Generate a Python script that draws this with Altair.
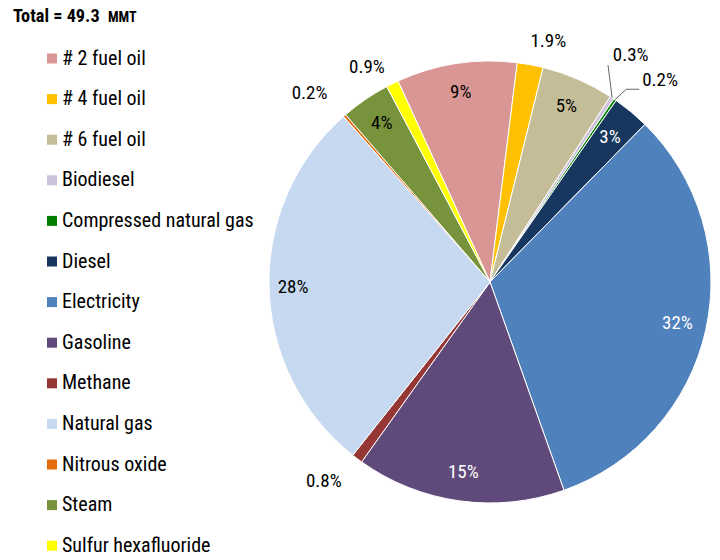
import math
import altair as alt
import pandas as pd

# ---- data ----
categories = ["# 2 fuel oil", "# 4 fuel oil", "# 6 fuel oil", "Biodiesel",
              "Compressed natural gas", "Diesel", "Electricity", "Gasoline",
              "Methane", "Natural gas", "Nitrous oxide", "Steam",
              "Sulfur hexafluoride"]
shares = [8.8, 1.9, 5.3, 0.3, 0.2, 2.7, 32.2, 15.3, 0.8, 27.8, 0.2, 3.6, 0.9]
colors = ["#D99694", "#FFC000", "#C4BD97", "#CCC1DA", "#008000", "#17375E",
          "#4F81BD", "#604A7B", "#953735", "#C6D9F1", "#E46C0A", "#77933C",
          "#FFFF00"]
title_main = "Total = 49.3"
title_unit = "MMT"

df = pd.DataFrame({"category": categories, "share": shares,
                   "order": list(range(len(categories)))})

TOTAL = sum(shares)
START = math.radians(-24.6)
R = 221
W = H = 444
FONT = "Roboto Condensed, DejaVu Sans Condensed, sans-serif"
FS = 20      # legend
LFS = 19     # slice labels

theta_scale = alt.Scale(domain=[0, TOTAL], range=[START, START + 2 * math.pi])
xs = alt.Scale(domain=[-W / 2, W / 2], nice=False, zero=False)
ys = alt.Scale(domain=[-H / 2, H / 2], nice=False, zero=False)

base = alt.Chart(df).transform_window(
    cum="sum(share)", sort=[alt.SortField("order")], frame=[None, 0]
).transform_calculate(
    t0="datum.cum - datum.share",
    mid="datum.cum - datum.share / 2",
    label="datum.share >= 2.5 ? format(datum.share, '.0f') + '%' : format(datum.share, '.1f') + '%'",
    a=f"{START} + 2 * PI * (datum.cum - datum.share / 2) / {TOTAL}",
)

arcs = base.mark_arc(outerRadius=R, stroke="white", strokeWidth=1).encode(
    theta=alt.Theta("t0:Q", scale=theta_scale, stack=None),
    theta2="cum:Q",
    color=alt.Color(
        "category:N",
        scale=alt.Scale(domain=categories, range=colors),
        sort=categories,
        legend=alt.Legend(
            title=None, orient="none", legendX=-226, legendY=-11.5,
            symbolType="square", symbolSize=100, symbolStrokeWidth=0,
            labelFont=FONT, labelFontSize=FS, labelColor="black",
            labelOffset=0, rowPadding=20.6, padding=0, labelLimit=400,
        ),
    ),
    order=alt.Order("order:Q"),
)

theta_mid = alt.Theta("mid:Q", scale=theta_scale, stack=None)


def one(names):
    expr = "indexof([" + ", ".join(f"'{n}'" for n in names) + "], datum.category) >= 0"
    return base.transform_filter(expr)


inside = base.transform_filter(
    "datum.share >= 2.5 && datum.category != 'Diesel' && datum.category != 'Natural gas'"
).mark_text(radius=192, font=FONT, fontSize=LFS).encode(
    theta=theta_mid,
    text="label:N",
    color=alt.condition(
        "indexof(['Electricity', 'Gasoline'], datum.category) >= 0",
        alt.value("white"), alt.value("black")),
)

inside_diesel = one(["Diesel"]).mark_text(
    radius=188, font=FONT, fontSize=LFS, color="white"
).encode(theta=theta_mid, text="label:N")

inside_ng = one(["Natural gas"]).mark_text(
    radius=197, font=FONT, fontSize=LFS, color="black"
).encode(theta=theta_mid, text="label:N")

out_right = one(["# 4 fuel oil"]).mark_text(
    radius=244, align="left", dx=-4, dy=-1, font=FONT, fontSize=LFS, color="black"
).encode(theta=theta_mid, text="label:N")

out_sf6 = one(["Sulfur hexafluoride"]).mark_text(
    radius=238, align="right", dy=-1, font=FONT, fontSize=LFS, color="black"
).encode(theta=theta_mid, text="label:N")

out_left = one(["Nitrous oxide", "Methane"]).mark_text(
    radius=250, align="right", dx=2, dy=-1, font=FONT, fontSize=LFS, color="black"
).encode(theta=theta_mid, text="label:N")

bio_lab = one(["Biodiesel"]).mark_text(
    radius=262, align="left", dx=-22, dy=-9, font=FONT, fontSize=LFS, color="black"
).encode(theta=theta_mid, text="label:N")

cng_lab = one(["Compressed natural gas"]).mark_text(
    radius=262, align="left", dx=4, dy=14, font=FONT, fontSize=LFS, color="black"
).encode(theta=theta_mid, text="label:N")

LEADER = "#404040"
bio_line = one(["Biodiesel"]).transform_calculate(
    x1=f"{R} * sin(datum.a)", y1=f"{R} * cos(datum.a)",
    x2=f"247 * sin(datum.a - {math.radians(5)})", y2=f"247 * cos(datum.a - {math.radians(5)})",
).mark_rule(color=LEADER, strokeWidth=0.8).encode(
    x=alt.X("x1:Q", scale=xs, axis=None), y=alt.Y("y1:Q", scale=ys, axis=None),
    x2="x2:Q", y2="y2:Q")

cng_line = one(["Compressed natural gas"]).transform_calculate(
    x1=f"{R} * sin(datum.a)", y1=f"{R} * cos(datum.a)",
    x2=f"236 * sin(datum.a + {math.radians(0.8)})", y2=f"236 * cos(datum.a + {math.radians(0.8)})",
).mark_rule(color=LEADER, strokeWidth=0.8).encode(
    x=alt.X("x1:Q", scale=xs, axis=None), y=alt.Y("y1:Q", scale=ys, axis=None),
    x2="x2:Q", y2="y2:Q")

cng_line2 = one(["Compressed natural gas"]).transform_calculate(
    x1=f"236 * sin(datum.a + {math.radians(0.8)})", y1=f"236 * cos(datum.a + {math.radians(0.8)})",
    x2=f"236 * sin(datum.a + {math.radians(0.8)}) + 13",
).mark_rule(color=LEADER, strokeWidth=0.8).encode(
    x=alt.X("x1:Q", scale=xs, axis=None), y=alt.Y("y1:Q", scale=ys, axis=None),
    x2="x2:Q", y2="y1:Q")

t1 = alt.Chart(pd.DataFrame({"t": [title_main]})).mark_text(
    align="left", baseline="alphabetic", font=FONT, fontSize=18.3, fontWeight="bold", color="black"
).encode(x=alt.value(-255), y=alt.value(-38.3), text="t:N")
t2 = alt.Chart(pd.DataFrame({"t": [title_unit]})).mark_text(
    align="left", baseline="alphabetic", font=FONT, fontSize=14, fontWeight="bold", color="black"
).encode(x=alt.value(-160), y=alt.value(-38.3), text="t:N")

chart = alt.layer(
    arcs, inside, inside_diesel, inside_ng, out_right, out_sf6, out_left,
    bio_lab, cng_lab, bio_line, cng_line, cng_line2, t1, t2
).properties(
    width=W, height=H,
    autosize=alt.AutoSizeParams(type="none"),
    padding={"left": 260, "top": 52, "right": 0, "bottom": 48},
).configure_view(stroke=None)

chart.save("out.html", embed_options={"renderer": "svg", "actions": False})
